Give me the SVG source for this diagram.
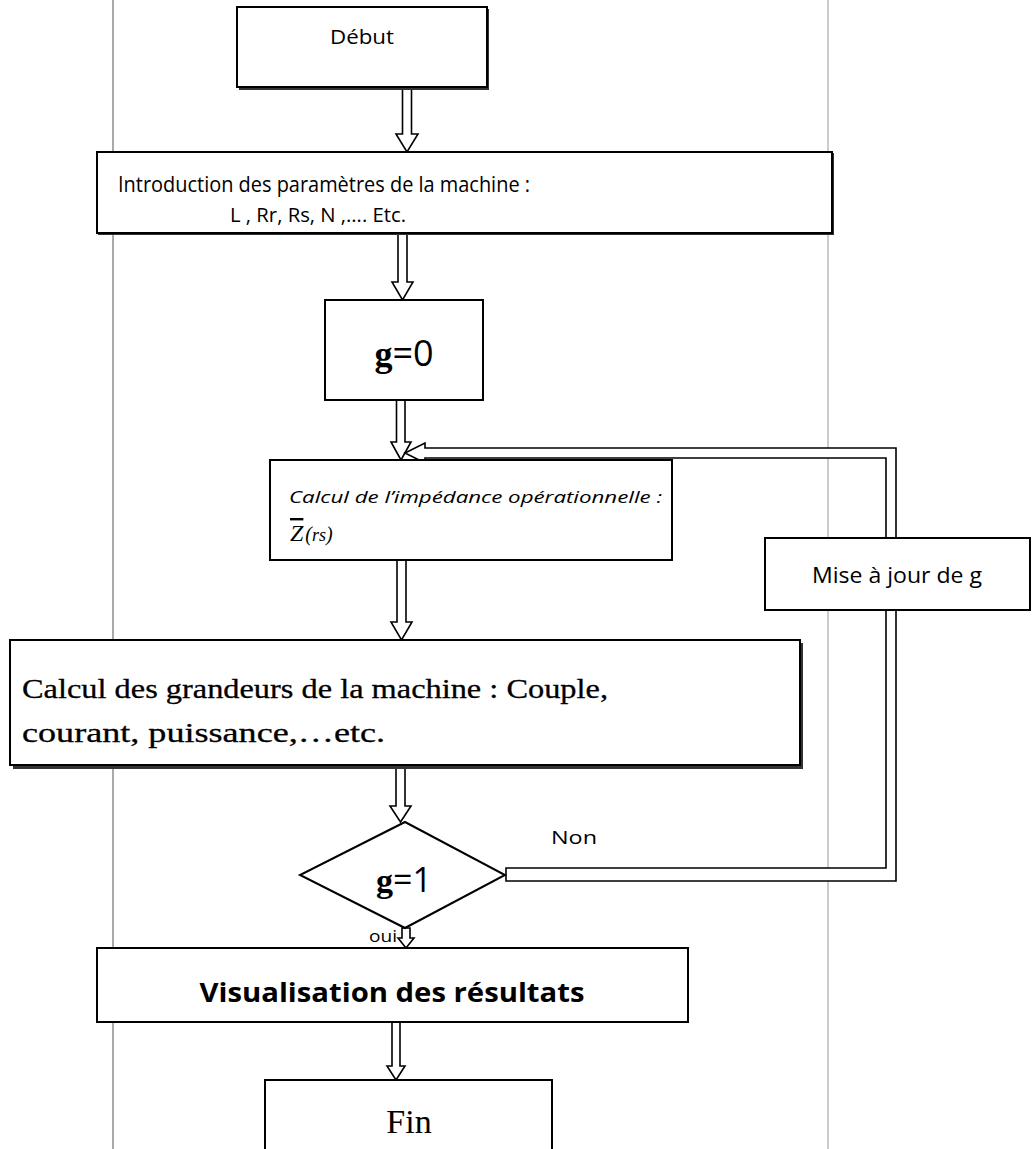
<svg xmlns="http://www.w3.org/2000/svg" width="1036" height="1149" viewBox="0 0 1036 1149">
<style>
.box{fill:#fff;stroke:#000;stroke-width:2}
.shadow{fill:#333;stroke:none}
.arr{fill:#fff;stroke:#000;stroke-width:1.6;stroke-linejoin:miter}
.sans{font-family:"Open Sans","Liberation Sans",sans-serif;fill:#000}
.serif{font-family:"Liberation Serif","DejaVu Serif",serif;fill:#000}
.guide{stroke:#555;stroke-width:1}
</style>
<rect width="1036" height="1149" fill="#fff"/>
<g id="guides">
<line class="guide" x1="113" y1="0" x2="113" y2="1149"/>
<line x1="828" y1="0" x2="828" y2="1149" stroke="#999" stroke-width="1"/>
</g>
<g id="connectors">
<path class="arr" d="M402.5,88 H411.5 V134 H418 L407,152 L396,134 H402.5 Z"/>
<path class="arr" d="M398,233 H407 V282 H413 L402.5,300 L392,282 H398 Z"/>
<path class="arr" d="M396.5,400 H405 V442 H411 L401,460 L391,442 H396.5 Z"/>
<path class="arr" d="M405,453 L425,443 V448 H896 V881 H506 V868 H886 V458 H425 V463 Z"/>
<path class="arr" d="M397,560 H406 V622 H412 L401.5,640 L391,622 H397 Z"/>
<path class="arr" d="M396,768 H405 V806 H411 L400.5,822 L390,806 H396 Z"/>
<path class="arr" d="M402,928 H410 V938 H414 L406,948 L398,938 H402 Z"/>
<path class="arr" d="M392,1022 H400 V1066 H405 L396,1080 L387,1066 H392 Z"/>
</g>
<g id="debut">
<rect class="shadow" x="239" y="9" width="250" height="81"/>
<rect class="box" x="237" y="7" width="250" height="80"/>
<text class="sans" x="362" y="44" font-size="20" text-anchor="middle" textLength="64" lengthAdjust="spacingAndGlyphs">Début</text>
</g>
<g id="intro">
<rect class="shadow" x="98" y="153" width="736" height="82"/>
<rect class="box" x="97" y="152" width="735" height="81"/>
<text class="sans" x="118" y="192" font-size="22" textLength="412" lengthAdjust="spacingAndGlyphs">Introduction des paramètres de la machine :</text>
<text class="sans" x="230" y="222" font-size="20" textLength="176" lengthAdjust="spacingAndGlyphs">L , Rr, Rs, N ,…. Etc.</text>
</g>
<g id="g0">
<rect class="box" x="325" y="300" width="158" height="100"/>
<text x="404" y="366" font-size="36" text-anchor="middle"><tspan class="serif" font-weight="bold">g</tspan><tspan class="sans">=0</tspan></text>
</g>
<g id="impedance">
<rect class="box" x="270" y="460" width="402" height="100"/>
<text class="sans" x="289" y="503" font-size="16" font-style="italic" textLength="373" lengthAdjust="spacingAndGlyphs">Calcul de l’impédance opérationnelle :</text>
<text x="290" y="541" font-size="24"><tspan class="serif" font-style="italic" text-decoration="overline">Z</tspan><tspan class="serif" font-style="italic" font-size="20" dx="2">(</tspan><tspan class="serif" font-style="italic" font-size="18">rs</tspan><tspan class="serif" font-style="italic" font-size="20">)</tspan></text>
</g>
<g id="maj">
<rect class="box" x="765" y="538" width="265" height="72"/>
<text class="sans" x="897" y="583" font-size="21" text-anchor="middle" textLength="170" lengthAdjust="spacingAndGlyphs">Mise à jour de g</text>
</g>
<g id="grandeurs">
<rect class="shadow" x="13" y="643" width="790" height="126"/>
<rect class="box" x="10" y="640" width="790" height="125"/>
<text class="serif" x="22" y="698" font-size="28" stroke="#000" stroke-width="0.3" textLength="586" lengthAdjust="spacingAndGlyphs">Calcul des grandeurs de la machine : Couple,</text>
<text class="serif" x="22" y="742" font-size="28" stroke="#000" stroke-width="0.3" textLength="363" lengthAdjust="spacingAndGlyphs">courant, puissance,…etc.</text>
</g>
<g id="decision">
<polygon class="box" points="405,822 505,875 405,928 300,875"/>
<text x="404" y="892" font-size="34" text-anchor="middle"><tspan class="serif" font-weight="bold">g</tspan><tspan class="sans">=1</tspan></text>
<text class="sans" x="551" y="844" font-size="18" textLength="46" lengthAdjust="spacingAndGlyphs">Non</text>
<text class="sans" x="369" y="942" font-size="16" textLength="28" lengthAdjust="spacingAndGlyphs">oui</text>
</g>
<g id="visu">
<rect class="box" x="97" y="948" width="591" height="74"/>
<text class="sans" x="392" y="1002" font-size="27" font-weight="bold" text-anchor="middle" textLength="385" lengthAdjust="spacingAndGlyphs">Visualisation des résultats</text>
</g>
<g id="fin">
<rect class="box" x="265" y="1080" width="287" height="75"/>
<text class="serif" x="409" y="1133" font-size="34" text-anchor="middle">Fin</text>
</g>
</svg>
